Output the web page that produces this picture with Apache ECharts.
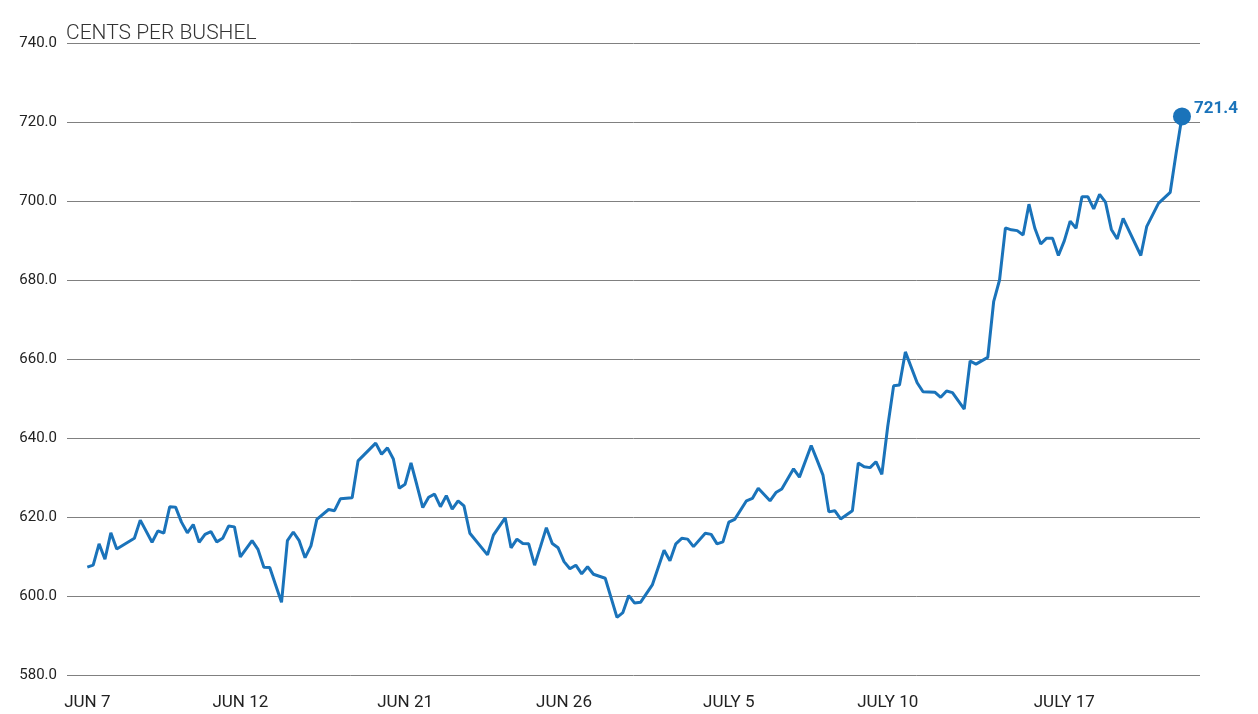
<!DOCTYPE html>
<html>
<head>
<meta charset="utf-8">
<title>Cents per bushel</title>
<script src="https://cdn.jsdelivr.net/npm/echarts@6/dist/echarts.min.js"></script>
<style>
	html, body { margin: 0; padding: 0; background: #fff; }
	#chart { width: 1258px; height: 714px; }
</style>
</head>
<body>
<div id="chart"></div>
<script>
// point position along the x axis (one step per reading)
var steps = [0, 1, 2, 3, 4, 5, 8, 9, 11, 12, 13, 14, 15, 16, 17, 18, 19, 20, 21, 22, 23, 24, 25, 26,
	28, 29, 30, 31, 32, 33, 34, 35, 36, 37, 38, 39, 41, 42, 43, 45, 46, 49, 50, 51, 52, 53, 54, 55,
	56, 57, 58, 59, 60, 61, 62, 63, 64, 65, 68, 69, 71, 72, 73, 74, 75, 76, 77, 78, 79, 80, 81, 82,
	83, 84, 85, 86, 88, 90, 91, 92, 93, 94, 96, 98, 99, 100, 101, 102, 103, 105, 106, 107, 108, 109,
	110, 112, 113, 114, 116, 117, 118, 120, 121, 123, 124, 125, 126, 127, 128, 130, 131, 132, 133,
	134, 135, 136, 137, 138, 139, 141, 142, 144, 145, 146, 147, 149, 150, 151, 153, 154, 155, 156,
	157, 158, 159, 160, 161, 162, 163, 164, 165, 166, 167, 168, 169, 170, 171, 172, 173, 174, 175,
	176, 179, 180, 182, 184, 185, 186];

// cents per bushel
var prices = [607.3, 607.8, 613.2, 609.3, 616.0, 611.9, 614.6, 619.2, 613.6, 616.5, 615.9, 622.6,
	622.5, 618.7, 616.0, 618.1, 613.6, 615.6, 616.3, 613.7, 614.6, 617.7, 617.5, 609.9,
	614.0, 611.8, 607.3, 607.2, 602.8, 598.4, 614.0, 616.2, 614.0, 609.7, 612.7, 619.4, 621.9, 621.6,
	624.6, 624.9, 634.2, 638.7, 635.9, 637.5, 634.7, 627.3, 628.3, 633.7,
	628.1, 622.4, 625.0, 625.8, 622.6, 625.4, 622.0, 624.1, 622.8, 615.9, 610.4, 615.4, 619.8, 612.2,
	614.4, 613.3, 613.2, 607.8, 612.5, 617.3, 613.3, 612.2, 608.7, 606.9,
	607.8, 605.6, 607.4, 605.5, 604.5, 594.6, 595.8, 600.1, 598.2, 598.4, 602.8, 611.6, 608.9, 613.2,
	614.6, 614.4, 612.5, 615.9, 615.6, 613.2, 613.7, 618.7,
	619.4, 624.1, 624.7, 627.3, 624.1, 626.2, 627.1, 632.2, 630.1, 638.1, 634.4, 630.6, 621.3, 621.6,
	619.5, 621.6, 633.7, 632.7, 632.5,
	634.0, 630.8, 642.9, 653.2, 653.4, 661.8, 654.0, 651.7, 651.6, 650.3, 651.9, 651.5, 647.3, 659.5,
	658.7, 660.4, 674.5, 680.0, 693.2,
	692.7, 692.5, 691.4, 699.2, 693.1, 689.1, 690.6, 690.6, 686.2, 689.9, 694.9, 693.1, 701.1, 701.1,
	698.0, 701.7, 699.7, 692.8, 690.4,
	695.6, 686.2, 693.5, 699.4, 702.2, 712.1, 721.4];

var tickSteps = [0, 26, 54, 81, 109, 136, 166];
var tickLabels = ['JUN 7', 'JUN 12', 'JUN 21', 'JUN 26', 'JULY 5', 'JULY 10', 'JULY 17'];

var blue = '#1a73ba';

var lineData = steps.map(function(s, i) {
	return [s, prices[i]];
});
var last = lineData[lineData.length - 1];

var chart = echarts.init(document.getElementById('chart'));

chart.setOption({
	animation: false,
	textStyle: {
		fontFamily: 'Roboto'
	},
	title: {
		text: 'CENTS PER BUSHEL',
		left: 66,
		top: 23,
		padding: 0,
		textStyle: {
			fontFamily: 'Roboto',
			fontSize: 21,
			fontWeight: 300,
			color: '#333'
		}
	},
	grid: {
		left: 67,
		right: 58,
		top: 43,
		bottom: 39
	},
	xAxis: {
		type: 'value',
		min: -3.45,
		max: 189.06,
		axisLine: { show: false },
		axisTick: { show: false },
		splitLine: { show: false },
		axisLabel: {
			customValues: tickSteps,
			margin: 19,
			fontSize: 17,
			color: '#222',
			formatter: function(v) {
				var i = tickSteps.indexOf(v);
				return i >= 0 ? tickLabels[i] : '';
			}
		}
	},
	yAxis: {
		type: 'value',
		min: 580,
		max: 740,
		interval: 20,
		axisLine: { show: false },
		axisTick: { show: false },
		splitLine: {
			lineStyle: {
				color: '#808080',
				width: 1
			}
		},
		axisLabel: {
			margin: 10,
			fontSize: 15,
			color: '#222',
			formatter: function(v) {
				return v.toFixed(1);
			}
		}
	},
	series: [{
		type: 'line',
		data: lineData,
		showSymbol: false,
		lineStyle: {
			color: blue,
			width: 3
		}
	}, {
		type: 'scatter',
		data: [last],
		symbolSize: 18,
		z: 5,
		itemStyle: {
			color: blue,
			opacity: 1
		},
		label: {
			show: true,
			position: 'right',
			distance: 3,
			offset: [0, -8],
			fontSize: 17,
			fontWeight: 'bold',
			color: blue,
			formatter: function(p) {
				return p.value[1].toFixed(1);
			}
		}
	}]
});
</script>
</body>
</html>
